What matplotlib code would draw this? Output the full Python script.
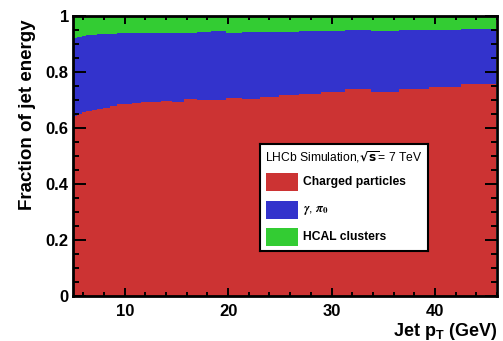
import numpy as np
import matplotlib
matplotlib.use("Agg")
import matplotlib.pyplot as plt
from matplotlib.patches import Rectangle
from matplotlib.ticker import MultipleLocator, FormatStrFormatter

plt.rcParams['font.family'] = ['Liberation Sans', 'DejaVu Sans']
plt.rcParams['font.weight'] = 'bold'
plt.rcParams['mathtext.fontset'] = 'custom'
plt.rcParams['mathtext.rm'] = 'Liberation Sans:bold'
plt.rcParams['mathtext.bf'] = 'Liberation Sans:bold'
plt.rcParams['mathtext.it'] = 'Liberation Sans:bold'

# jet pT bin edges (GeV), log spaced
pt_edges = [5.0, 5.40, 5.83, 6.29, 6.79, 7.33, 7.91, 8.54, 9.22, 9.95,
            10.74, 11.59, 12.51, 13.51, 14.58, 15.74, 16.99, 18.34, 19.80,
            21.37, 23.07, 24.90, 26.88, 29.02, 31.33, 33.81, 36.50, 39.40,
            42.53, 45.91]

# energy fractions per bin
charged = [0.643, 0.650, 0.657, 0.662, 0.664, 0.668, 0.672, 0.679, 0.685,
           0.686, 0.689, 0.692, 0.692, 0.695, 0.693, 0.703, 0.700, 0.700,
           0.706, 0.705, 0.710, 0.718, 0.721, 0.729, 0.738, 0.730, 0.738,
           0.746, 0.758]
photons = [0.279, 0.276, 0.272, 0.269, 0.269, 0.267, 0.264, 0.258, 0.253,
           0.253, 0.250, 0.248, 0.248, 0.246, 0.247, 0.238, 0.243, 0.246,
           0.234, 0.239, 0.234, 0.226, 0.225, 0.217, 0.212, 0.218, 0.212,
           0.205, 0.196]
hcal = [0.078, 0.074, 0.071, 0.069, 0.067, 0.065, 0.064, 0.063, 0.062,
        0.061, 0.061, 0.060, 0.060, 0.059, 0.060, 0.059, 0.057, 0.054,
        0.060, 0.056, 0.056, 0.056, 0.054, 0.054, 0.050, 0.052, 0.050,
        0.049, 0.046]

labels = ['Charged particles', r'$\gamma$, $\pi_{0}$', 'HCAL clusters']
colors = ['#cc3333', '#3333cc', '#33cc33']

W, H = 503, 341
fig = plt.figure(figsize=(W / 100, H / 100), dpi=100)
ax = fig.add_axes([73 / W, (H - 296) / H, 424 / W, 280 / H])

edges = np.array(pt_edges)
bottom = np.zeros(len(charged))
for vals, c in zip([charged, photons, hcal], colors):
    top = bottom + np.array(vals)
    ax.stairs(top, edges, baseline=bottom, fill=True, color=c, lw=0)
    bottom = top

ax.set_xlim(5, 46)
ax.set_ylim(0, 1)
ax.xaxis.set_major_locator(MultipleLocator(10))
ax.xaxis.set_minor_locator(MultipleLocator(2))
ax.yaxis.set_major_locator(MultipleLocator(0.2))
ax.yaxis.set_minor_locator(MultipleLocator(0.05))
ax.yaxis.set_major_formatter(FormatStrFormatter('%g'))
ax.tick_params(axis='both', which='both', direction='in', top=True, right=True,
               width=1.4, labelsize=12)
ax.tick_params(axis='x', which='major', length=6, pad=6)
ax.tick_params(axis='x', which='minor', length=3)
ax.tick_params(axis='y', which='major', length=9, pad=3)
ax.tick_params(axis='y', which='minor', length=4.5)
for s in ax.spines.values():
    s.set_linewidth(2)

ax.set_xlabel(r'Jet p$_{T}$ (GeV)', fontsize=13, fontweight='bold', ha='right')
ax.xaxis.set_label_coords(1.0, -0.09)
ax.set_ylabel('Fraction of jet energy', fontsize=13.5, fontweight='bold', ha='right')
ax.yaxis.set_label_coords(-0.087, 0.986)

# legend box
lg = fig.add_axes([260 / W, (H - 251) / H, 168 / W, 107 / H])
lg.set_xlim(0, 168)
lg.set_ylim(107, 0)
lg.set_xticks([])
lg.set_yticks([])
for s in lg.spines.values():
    s.set_linewidth(1.5)
lg.text(5, 13, r'LHCb Simulation,$\sqrt{\mathrm{s}}$= 7 TeV', fontsize=8.7,
        fontweight='normal', va='center', math_fontfamily='dejavusans')
rows = [38, 66, 93]
for y, lab, c in zip(rows, labels, colors):
    lg.add_patch(Rectangle((6, y - 9), 32, 18, color=c, lw=0))
    if 'gamma' in lab:
        lg.text(43, y, lab, fontsize=9, fontweight='normal', va='center',
                math_fontfamily='stix')
    else:
        lg.text(43, y, lab, fontsize=8.7, va='center')

fig.savefig('out.png', dpi=100)
